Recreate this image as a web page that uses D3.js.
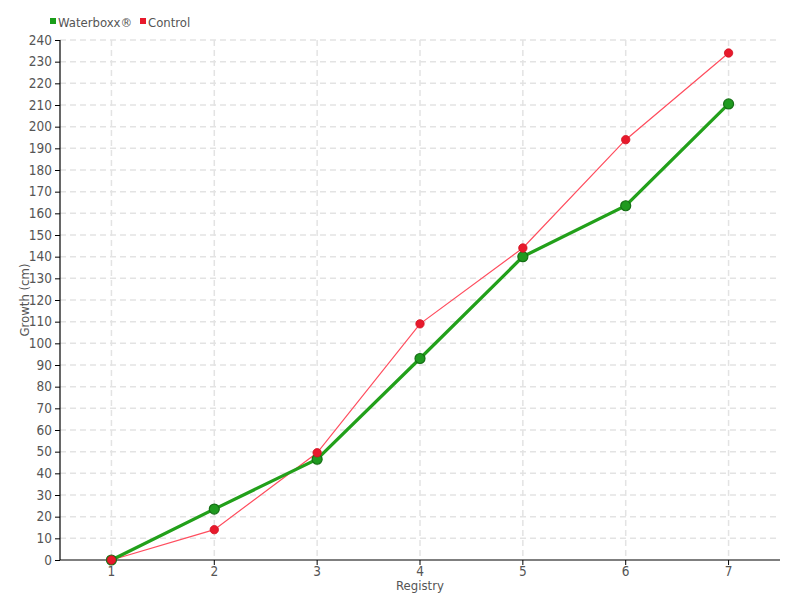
<!DOCTYPE html>
<html><head><meta charset="utf-8">
<script src="https://cdn.jsdelivr.net/npm/d3@7"></script>
<style>
body{margin:0;background:#fff;}
text{font-family:"DejaVu Sans Condensed","Roboto",sans-serif;fill:#555;}
</style></head>
<body><svg id="c" width="800" height="600"></svg>
<script>
const categories = ["1","2","3","4","5","6","7"];
const waterboxx = [0, 23.5, 46.5, 93, 140, 163.5, 210.5];
const control = [0, 14, 49.5, 109, 144, 194, 234];
const yTicks = d3.range(0, 241, 10);
const seriesNames = ["Waterboxx®", "Control"];
const seriesColors = ["#1a9e1a", "#e8192c"];

const svg = d3.select("#c");
const m = {l:60, r:20, t:40, b:40};
const W = 800, H = 600;
const x = d3.scaleBand().domain(categories).range([m.l, W-m.r]).padding(0);
const y = d3.scaleLinear().domain([0,240]).range([H-m.b, m.t]);
const cx = d => x(d) + x.bandwidth()/2;

// grid
svg.append("g").selectAll("line").data(yTicks.slice(1)).join("line")
  .attr("x1", m.l).attr("x2", W-m.r).attr("y1", d=>y(d)).attr("y2", d=>y(d))
  .attr("stroke","#e3e3e3").attr("stroke-width",1.5).attr("stroke-dasharray","6,4");
svg.append("g").selectAll("line").data(categories).join("line")
  .attr("x1", d=>cx(d)).attr("x2", d=>cx(d)).attr("y1", m.t).attr("y2", H-m.b)
  .attr("stroke","#e3e3e3").attr("stroke-width",1.5).attr("stroke-dasharray","6,4");

// axes
const yAxis = svg.append("g").attr("transform",`translate(${m.l},0)`)
  .call(d3.axisLeft(y).tickValues(yTicks).tickSize(5).tickPadding(3));
const xAxis = svg.append("g").attr("transform",`translate(0,${H-m.b})`)
  .call(d3.axisBottom(x).tickSize(5).tickPadding(1));
[yAxis,xAxis].forEach(a=>{
  a.select(".domain").attr("stroke","#000").attr("stroke-width",1.2);
  a.selectAll(".tick line").attr("stroke","#000");
  a.selectAll("text").attr("font-size",13.5).style("font-family",'"DejaVu Sans Condensed",sans-serif').attr("fill","#555");
});
xAxis.select(".domain").attr("d",`M${m.l},0H${W-m.r}`);
yAxis.select(".domain").attr("d",`M0,${H-m.b}V${m.t}`);

// labels
svg.append("text").attr("x", (m.l+W-m.r)/2).attr("y", 590).attr("text-anchor","middle")
  .attr("font-size",13).text("Registry");
svg.append("text").attr("transform",`translate(29,${(m.t+H-m.b)/2}) rotate(-90)`)
  .attr("text-anchor","middle").attr("font-size",13).text("Growth (cm)");

// lines
const line = d3.line().x((d,i)=>cx(categories[i])).y(d=>y(d));
svg.append("path").datum(control).attr("d",line).attr("fill","none")
  .attr("stroke","#ff4d5e").attr("stroke-width",1.2);
svg.append("path").datum(waterboxx).attr("d",line).attr("fill","none")
  .attr("stroke","#22a01a").attr("stroke-width",3.2);
svg.append("g").selectAll("circle").data(waterboxx).join("circle")
  .attr("cx",(d,i)=>cx(categories[i])).attr("cy",d=>y(d)).attr("r",5)
  .attr("fill","#1f9a1f").attr("stroke","#157015").attr("stroke-width",1.2);
svg.append("g").selectAll("circle").data(control).join("circle")
  .attr("cx",(d,i)=>cx(categories[i])).attr("cy",d=>y(d)).attr("r",4.2)
  .attr("fill","#e8192c").attr("stroke","#d01020").attr("stroke-width",0.8);

// legend
const leg = svg.append("g");
const lx = [50, 140];
seriesNames.forEach((n,i)=>{
  leg.append("rect").attr("x",lx[i]).attr("y",18).attr("width",6).attr("height",6).attr("fill",seriesColors[i]);
  leg.append("text").attr("x",lx[i]+8).attr("y",27).attr("font-size",13).text(n);
});
</script></body></html>
